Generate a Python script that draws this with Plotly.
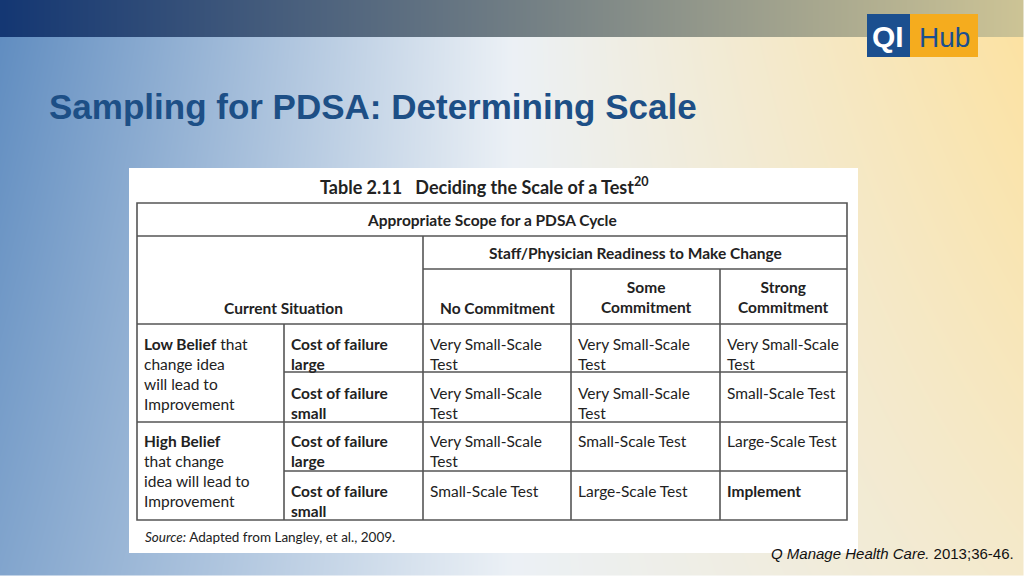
import numpy as np
import plotly.graph_objects as go

slide_title = "Sampling for PDSA: Determining Scale"
table_title = "Table 2.11   Deciding the Scale of a Test<sup>20</sup>"
scope_header = "Appropriate Scope for a PDSA Cycle"
readiness_header = "Staff/Physician Readiness to Make Change"
situation_header = "Current Situation"
columns = ["No Commitment", "Some<br>Commitment", "Strong<br>Commitment"]
beliefs = ["<b>Low Belief</b> that<br>change idea<br>will lead to<br>Improvement",
           "<b>High Belief</b><br>that change<br>idea will lead to<br>Improvement"]
costs = ["<b>Cost of failure<br>large</b>", "<b>Cost of failure<br>small</b>",
         "<b>Cost of failure<br>large</b>", "<b>Cost of failure<br>small</b>"]
cells = [
    ["Very Small-Scale<br>Test", "Very Small-Scale<br>Test", "Very Small-Scale<br>Test"],
    ["Very Small-Scale<br>Test", "Very Small-Scale<br>Test", "Small-Scale Test"],
    ["Very Small-Scale<br>Test", "Small-Scale Test", "Large-Scale Test"],
    ["Small-Scale Test", "Large-Scale Test", "<b>Implement</b>"],
]
source = "<i>Source:</i> Adapted from Langley, et al., 2009."
citation = "<i>Q Manage Health Care.</i> 2013;36-46."

# background image
W, H = 1024, 576
xs = np.linspace(0, 1, W)[None, :, None]
ys = np.linspace(0, 1, H)[:, None, None]
blue = np.array([95, 140, 192.0])
white = np.array([236, 241, 246.0])
yellow = np.array([253, 226, 160.0])
t1 = np.clip(xs / 0.5, 0, 1)
left = blue * (1 - t1) + white * t1
t2 = np.clip((xs - 0.5) / 0.5, 0, 1) * (1 - 0.5 * ys)
bg = left * (1 - t2) + yellow * t2
bg = bg + (white - bg) * 0.25 * ys * (xs < 0.5)
navy = np.array([20, 55, 115.0])
tan = np.array([205, 196, 150.0])
band = navy * (1 - xs) + tan * xs
img = np.where(ys * H < 37, band, bg)
img = np.clip(img, 0, 255).astype(np.uint8)

fig = go.Figure(go.Image(z=img, x0=0, dx=1, y0=0, dy=1, hoverinfo="skip"))

shapes = []
def rect(x0, y0, x1, y1, fill, line=None):
    shapes.append(dict(type="rect", x0=x0, y0=y0, x1=x1, y1=y1, fillcolor=fill,
                       line=dict(width=0) if line is None else line, layer="above"))
def seg(x0, y0, x1, y1):
    shapes.append(dict(type="line", x0=x0, y0=y0, x1=x1, y1=y1,
                       line=dict(color="#555", width=1.6), layer="above"))

rect(129, 168, 858, 553, "white")
rect(137, 203, 847, 520, "rgba(0,0,0,0)", dict(color="#555", width=1.6))
seg(137, 236, 847, 236)
seg(423, 269, 847, 269)
seg(137, 324, 847, 324)
seg(284, 372, 847, 372)
seg(137, 422, 847, 422)
seg(284, 471, 847, 471)
seg(423, 236, 423, 520)
seg(284, 324, 284, 520)
seg(571, 269, 571, 520)
seg(720, 269, 720, 520)
# logo
rect(867, 14, 910, 57, "#1b4f8f")
rect(910, 14, 978, 57, "#f5ac1e")

ann = []
F = "Lato, Open Sans, sans-serif"
def txt(x, y, s, size=15.5, xa="left", ya="top", color="#222", fam=F):
    ann.append(dict(x=x, y=y, text=s, showarrow=False, xanchor=xa, yanchor=ya,
                    align=xa, font=dict(size=size, color=color, family=fam)))

txt(47, 106, "<b>" + slide_title + "</b>", 35, ya="middle", color="#1d4f86", fam="Liberation Sans, Arial")
txt(484, 186, "<b>" + table_title + "</b>", 18, xa="center", ya="middle")
txt(492, 220, "<b>" + scope_header + "</b>", 15.5, xa="center", ya="middle")
txt(635, 253, "<b>" + readiness_header + "</b>", 15.5, xa="center", ya="middle")
txt(283, 308, "<b>" + situation_header + "</b>", 15.5, xa="center", ya="middle")
col_cx = [497, 646, 783]
col_x = [428, 576, 725]
for cx, c in zip(col_cx, columns):
    if "<br>" in c:
        txt(cx, 297, "<b>" + c + "</b>", 15.5, xa="center", ya="middle")
    else:
        txt(cx, 308, "<b>" + c + "</b>", 15.5, xa="center", ya="middle")
row_y = [333, 382, 430, 480]
txt(142, 333, beliefs[0])
txt(142, 430, beliefs[1])
for ry, c, row in zip(row_y, costs, cells):
    txt(289, ry, c)
    for cx, v in zip(col_x, row):
        txt(cx, ry, v)
txt(143, 537, source, 13.5, ya="middle")
txt(1016, 553, citation, 15, xa="right", ya="middle", color="#111", fam="Liberation Sans, Arial")
txt(888, 36, "<b>QI</b>", 30, xa="center", ya="middle", color="white", fam="Liberation Sans, Arial")
txt(944, 37, "Hub", 28, xa="center", ya="middle", color="#1b4f8f", fam="Liberation Sans, Arial")

fig.update_layout(width=1024, height=576, margin=dict(l=0, r=0, t=0, b=0),
                  shapes=shapes, annotations=ann, showlegend=False,
                  xaxis=dict(range=[0, 1024], visible=False, fixedrange=True),
                  yaxis=dict(range=[576, 0], visible=False, fixedrange=True),
                  plot_bgcolor="white", paper_bgcolor="white")
fig.write_html("out.html", config={"displayModeBar": False},
               post_script="document.body.style.margin='0';document.body.style.overflow='hidden';")
